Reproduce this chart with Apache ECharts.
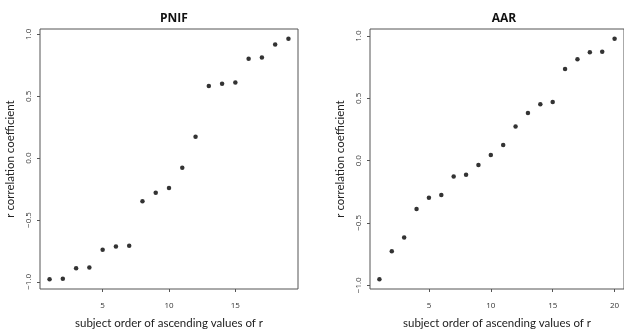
<!DOCTYPE html>
<html>
<head>
<meta charset="utf-8">
<script src="https://cdn.jsdelivr.net/npm/echarts@6/dist/echarts.min.js"></script>
<style>
html,body{margin:0;padding:0;background:#fff;}
#c{width:624px;height:334px;}
</style>
</head>
<body>
<div id="c"></div>
<script>
// ---- data ----
const titles = ["PNIF", "AAR"];
const pnifR = [-0.98, -0.975, -0.89, -0.885, -0.74, -0.715, -0.708, -0.349, -0.279, -0.242, -0.077, 0.173, 0.583, 0.601, 0.612, 0.804, 0.814, 0.918, 0.966];
const aarR = [-0.953, -0.727, -0.617, -0.388, -0.298, -0.275, -0.128, -0.112, -0.035, 0.046, 0.125, 0.274, 0.383, 0.453, 0.472, 0.737, 0.814, 0.871, 0.874, 0.980];
const xTicksPnif = [5, 10, 15];
const xTicksAar = [5, 10, 15, 20];
const yTicks = [-1.0, -0.5, 0.0, 0.5, 1.0];
const xName = "subject order of ascending values of r";
const yName = "r correlation coefficient";

// ---- build ----
const FONT = "Lato, 'Open Sans', sans-serif";
const TFONT = "'Open Sans', 'Noto Sans', sans-serif";
function ext(lo, hi) { const d = (hi - lo) * 0.04; return [lo - d, hi + d]; }
const series = [pnifR, aarR];
const xt = [xTicksPnif, xTicksAar];
const grids = [
  {left: 40, top: 29, width: 258, height: 264},
  {left: 370, top: 29, width: 258, height: 265}
];
const option = {
  animation: false,
  backgroundColor: '#fff',
  title: [], grid: [], xAxis: [], yAxis: [], series: []
};
series.forEach((vals, i) => {
  const n = vals.length;
  const xe = ext(1, n);
  const ye = ext(Math.min(...vals), Math.max(...vals));
  const g = grids[i];
  option.grid.push(Object.assign({show: true, borderColor: '#555', borderWidth: 1, backgroundColor: 'transparent'}, g));
  option.title.push({
    text: titles[i], left: g.left + g.width / 2, top: 8, textAlign: 'center',
    textStyle: {fontFamily: TFONT, fontWeight: 'bold', fontSize: 12, color: '#111'}
  });
  option.xAxis.push({
    type: 'value', gridIndex: i, min: xe[0], max: xe[1],
    name: xName, nameLocation: 'middle', nameGap: 28,
    nameTextStyle: {fontFamily: FONT, fontSize: 11.5, color: '#222'},
    axisLine: {show: false, onZero: false}, splitLine: {show: false},
    axisTick: {show: true, length: 3, customValues: xt[i], lineStyle: {color: '#555'}},
    axisLabel: {customValues: xt[i], margin: 13, fontFamily: TFONT, fontSize: 8, color: '#333'}
  });
  option.yAxis.push({
    type: 'value', gridIndex: i, min: ye[0], max: ye[1],
    name: yName, nameLocation: 'middle', nameGap: 24,
    nameTextStyle: {fontFamily: FONT, fontSize: 11.5, color: '#222'},
    axisLine: {show: false, onZero: false}, splitLine: {show: false},
    axisTick: {show: true, length: 3, customValues: yTicks, lineStyle: {color: '#555'}},
    axisLabel: {customValues: yTicks, rotate: 90, margin: 7, fontFamily: TFONT, fontSize: 8, color: '#333',
      formatter: v => (v < 0 ? '\u2212' : '') + Math.abs(v).toFixed(1)}
  });
  option.series.push({
    type: 'scatter', xAxisIndex: i, yAxisIndex: i,
    symbol: 'circle', symbolSize: 4.5,
    itemStyle: {color: '#000'},
    data: vals.map((v, k) => [k + 1, v])
  });
});
const chart = echarts.init(document.getElementById('c'), null, {renderer: 'canvas'});
chart.setOption(option);
</script>
</body>
</html>
